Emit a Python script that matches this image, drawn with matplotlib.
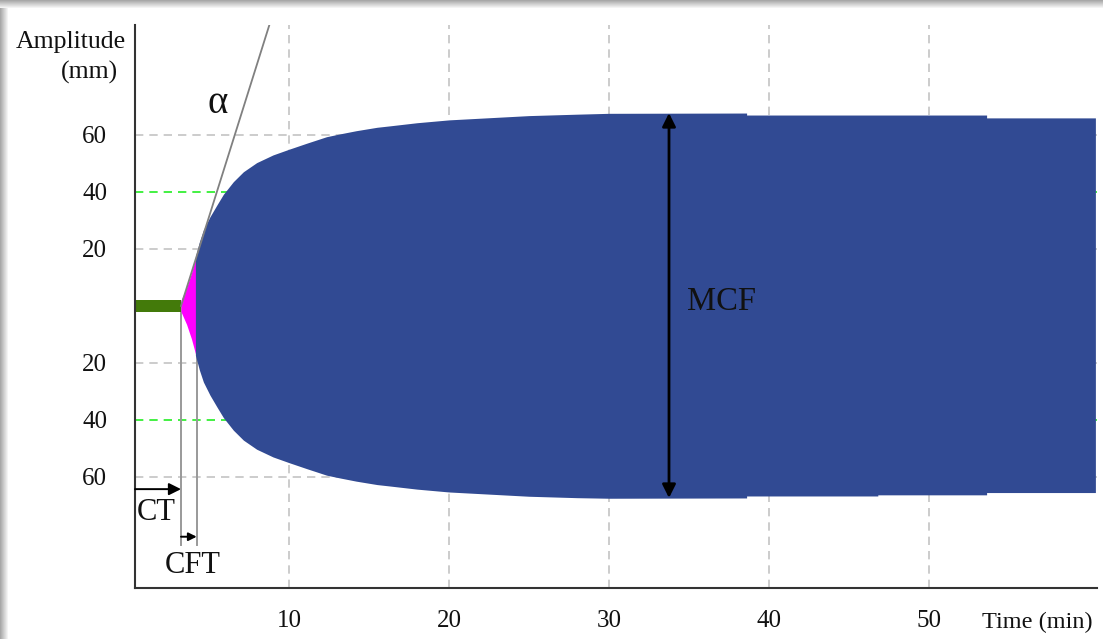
import matplotlib
matplotlib.use("Agg")
import matplotlib.pyplot as plt
from matplotlib.patches import Rectangle

plt.rcParams['font.family'] = ['Liberation Serif', 'DejaVu Serif']

# ---------------- data ----------------
x_start = 0.375          # left edge of the time axis (min)
x_end = 60.5
ct_time = 3.25           # clotting time
cft_time = 4.23          # end of clot formation time
mcf_time = 33.75         # where MCF is measured

x_ticks = [10, 20, 30, 40, 50]
x_tick_labels = ['10', '20', '30', '40', '50']
y_ticks = [-60, -40, -20, 20, 40, 60]
y_tick_labels = ['60', '40', '20', '20', '40', '60']
y_grid_gray = [-60, -20, 20, 60]
y_grid_green = [-40, 40]

green_t = [0.375, 3.25]
green_amp = [2.2, 2.2]

magenta_t = [3.25, 3.6, 3.9, 4.18]
magenta_amp = [2.0, 6.5, 11.5, 17.3]

env_t = [4.15, 4.4, 4.65, 5.06, 5.5, 5.9, 6.52, 7.15, 7.98, 9.0, 10.0, 11.1,
         12.35, 13.2, 14.2, 15.5, 16.3, 18.0, 20.0, 22.0, 25.0, 28.0, 30.0,
         38.6, 38.6, 46.8, 46.8, 53.6, 53.6, 60.4]
env_upper = [17.3, 22.5, 26.7, 31.3, 35.5, 39.2, 43.6, 47.1, 50.3, 53.0, 55.0, 57.1,
             59.4, 60.4, 61.5, 62.7, 63.2, 64.3, 65.3, 65.9, 66.8, 67.3, 67.6,
             67.7, 67.0, 67.0, 67.0, 67.0, 66.0, 66.0]
env_lower = [17.3, 22.5, 26.7, 31.3, 35.5, 39.2, 43.6, 47.1, 50.3, 53.0, 55.0, 57.1,
             59.4, 60.4, 61.5, 62.7, 63.2, 64.3, 65.3, 65.9, 66.8, 67.3, 67.5,
             67.4, 66.7, 66.7, 66.3, 66.3, 65.5, 65.5]

alpha_t = [3.25, 8.85]
alpha_amp = [0.0, 100.0]

ct_arrow_y = -64.3
cft_arrow_y = -81.0
guide_bottom = -84.0
mcf_top = 67.7
mcf_bottom = -67.4

# ---------------- figure ----------------
W, H = 1103, 639
fig = plt.figure(figsize=(W / 100, H / 100), dpi=100)
fig.patch.set_facecolor('white')

# shadow frame (top and left)
for i in range(8):
    g = 0.66 + 0.34 * (i / 8.0)
    fig.add_artist(Rectangle((0, 1 - (i + 1) / H), 1, 1 / H, transform=fig.transFigure,
                             facecolor=(g, g, g), edgecolor='none', zorder=0))
    fig.add_artist(Rectangle((i / W, 0), 1 / W, 1 - i / H, transform=fig.transFigure,
                             facecolor=(g, g, g), edgecolor='none', zorder=0))

ax = fig.add_axes([135 / W, 1 - 588 / H, (1097 - 135) / W, (588 - 25) / H])
ax.set_facecolor('white')
ax.set_xlim(x_start, x_end)
ax.set_ylim(-99, 98.6)

for s in ['top', 'right']:
    ax.spines[s].set_visible(False)
for s in ['left', 'bottom']:
    ax.spines[s].set_color('#333333')
    ax.spines[s].set_linewidth(1.5)

ax.set_xticks(x_ticks)
ax.set_xticklabels(x_tick_labels)
ax.set_yticks(y_ticks)
ax.set_yticklabels(y_tick_labels)
ax.tick_params(axis='both', length=0, labelsize=18, colors='#111111')
ax.tick_params(axis='x', pad=16)
ax.tick_params(axis='y', pad=20)

# gridlines
for xv in x_ticks:
    ax.axvline(xv, color='#c4c4c4', lw=1.2, ls=(0, (5, 3.6)), zorder=1)
for yv in y_grid_gray:
    ax.axhline(yv, color='#c4c4c4', lw=1.2, ls=(0, (5, 3.6)), zorder=1)
for yv in y_grid_green:
    ax.axhline(yv, color='#22ee22', lw=1.2, ls=(0, (5, 3.6)), zorder=1)

# CT / CFT guide lines
ax.plot([ct_time, ct_time], [0, guide_bottom], color='#999999', lw=1.4, zorder=1.5)
ax.plot([cft_time, cft_time], [0, guide_bottom], color='#999999', lw=1.4, zorder=1.5)

# trace
ax.fill_between(green_t, [-a for a in green_amp], green_amp, color='#437a0a', lw=0, zorder=2)
ax.fill_between(magenta_t, [-a for a in magenta_amp], magenta_amp, color='#ff00ff', lw=0, zorder=2)
ax.fill_between(env_t, [-a for a in env_lower], env_upper, color='#314a93', lw=0, zorder=2)

# alpha tangent line
ax.plot(alpha_t, alpha_amp, color='#808080', lw=1.3, zorder=3)
ax.text(5.56, 70.9, 'α', fontsize=28, ha='center', va='center', color='#111111')

# arrows
ap = dict(arrowstyle='-|>', color='black', lw=1.4, mutation_scale=18, shrinkA=0, shrinkB=0)
ax.annotate('', xy=(ct_time, ct_arrow_y), xytext=(x_start, ct_arrow_y), arrowprops=ap, zorder=4)
ax.annotate('', xy=(cft_time, cft_arrow_y), xytext=(ct_time, cft_arrow_y),
            arrowprops=dict(ap, mutation_scale=12), zorder=4)
ax.annotate('', xy=(mcf_time, mcf_top), xytext=(mcf_time, mcf_bottom),
            arrowprops=dict(arrowstyle='<|-|>', color='black', lw=2, mutation_scale=20,
                            shrinkA=0, shrinkB=0), zorder=4)

ax.text(1.69, -72.5, 'CT', fontsize=22, ha='center', va='center', color='#111111')
ax.text(4.0, -91.0, 'CFT', fontsize=22, ha='center', va='center', color='#111111')
ax.text(34.9, 1.4, 'MCF', fontsize=23.5, ha='left', va='center', color='#111111')

# axis titles
fig.text(126 / W, 1 - 42 / H, 'Amplitude', fontsize=18.5, ha='right', va='center', color='#111111')
fig.text(118 / W, 1 - 72 / H, '(mm)', fontsize=18.5, ha='right', va='center', color='#111111')
fig.text(1093 / W, 1 - 622 / H, 'Time (min)', fontsize=17.5, ha='right', va='center', color='#111111')

fig.savefig('out.png', dpi=100, facecolor='white')
